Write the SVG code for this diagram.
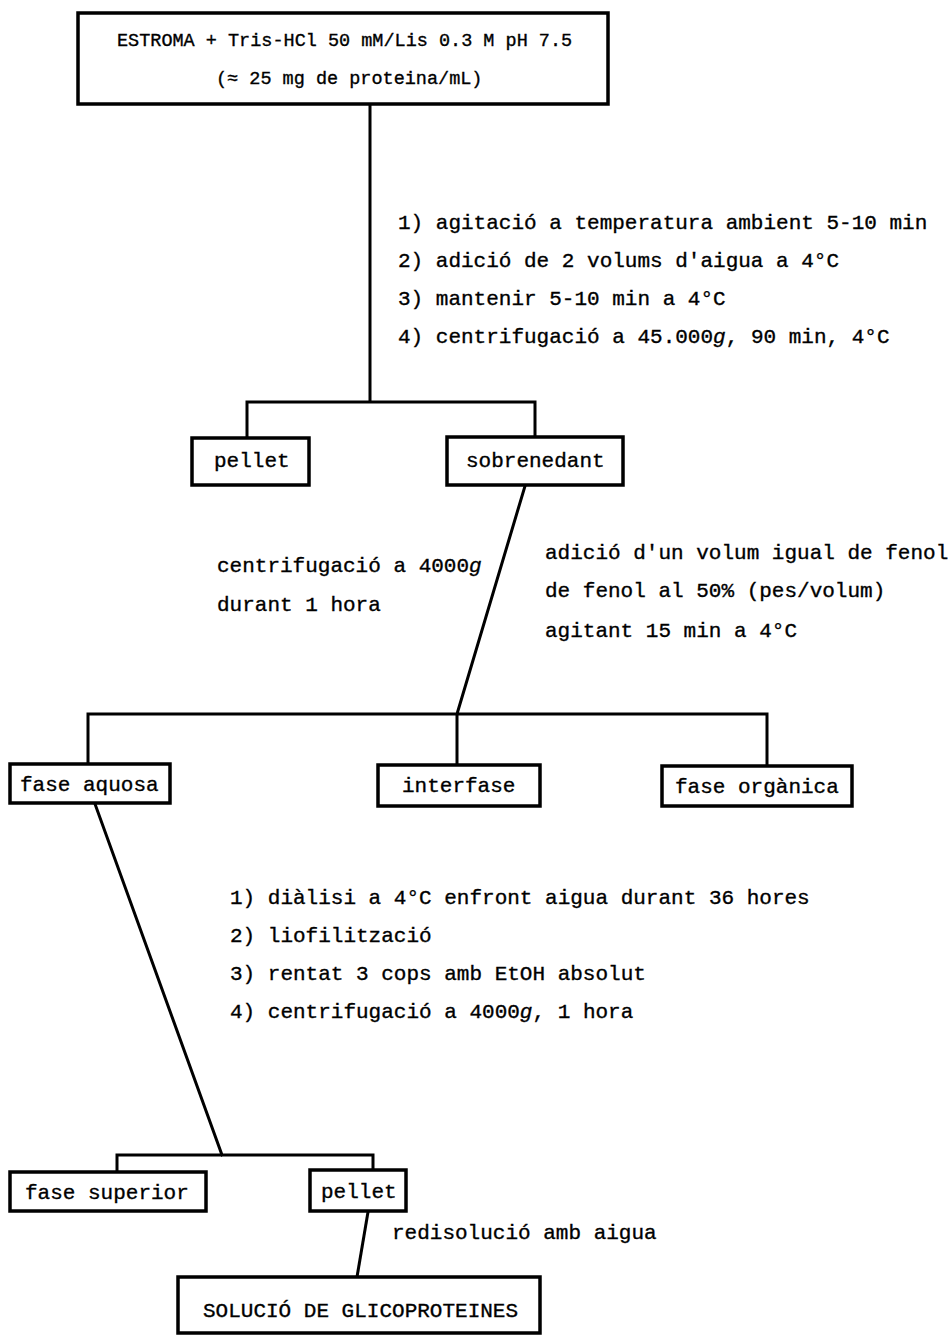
<svg xmlns="http://www.w3.org/2000/svg" width="951" height="1337" viewBox="0 0 951 1337">
<style>
.box{fill:#fff;stroke:#000;stroke-width:3.5}
.ln{fill:none;stroke:#000;stroke-width:3;stroke-linecap:square;stroke-linejoin:miter}
text{font-family:"Liberation Mono","Courier New",monospace;font-size:21px;fill:#000;stroke:#000;stroke-width:0.35}
.sm{font-size:18.5px}
.it{font-style:italic}
</style>
<rect width="951" height="1337" fill="#fff"/>
<g id="connectors">
<path class="ln" d="M370,106 V402 M247,438 V402 H535 V437"/>
<path class="ln" d="M525,486 L457,714 M88,764 V714 H767 V766 M457,714 V765"/>
<path class="ln" d="M95,804 L222,1155 M117,1172 V1155 H373 V1170"/>
<path class="ln" d="M368,1212 L357,1277"/>
</g>
<g id="n-estroma">
<rect class="box" x="78" y="13" width="530" height="91"/>
<text class="sm" x="117" y="46">ESTROMA + Tris-HCl 50 mM/Lis 0.3 M pH 7.5</text>
<text class="sm" x="216" y="84">(≈ 25 mg de proteina/mL)</text>
</g>
<g id="lbl-steps1">
<text x="398" y="229">1) agitació a temperatura ambient 5-10 min</text>
<text x="398" y="267">2) adició de 2 volums d'aigua a 4°C</text>
<text x="398" y="305">3) mantenir 5-10 min a 4°C</text>
<text x="398" y="343">4) centrifugació a 45.000<tspan class="it">g</tspan>, 90 min, 4°C</text>
</g>
<g id="n-pellet1">
<rect class="box" x="192" y="438" width="117" height="47"/>
<text x="214" y="467">pellet</text>
</g>
<g id="n-sobrenedant">
<rect class="box" x="447" y="437" width="176" height="48"/>
<text x="466" y="467">sobrenedant</text>
</g>
<g id="lbl-centrif">
<text x="217" y="572">centrifugació a 4000<tspan class="it">g</tspan></text>
<text x="217" y="611">durant 1 hora</text>
</g>
<g id="lbl-fenol">
<text x="545" y="559">adició d'un volum igual de fenol</text>
<text x="545" y="597">de fenol al 50% (pes/volum)</text>
<text x="545" y="637">agitant 15 min a 4°C</text>
</g>
<g id="n-aquosa">
<rect class="box" x="10" y="764" width="160" height="39"/>
<text x="20" y="791">fase aquosa</text>
</g>
<g id="n-interfase">
<rect class="box" x="378" y="765" width="162" height="41"/>
<text x="402" y="792">interfase</text>
</g>
<g id="n-organica">
<rect class="box" x="662" y="766" width="190" height="40"/>
<text x="675" y="793">fase orgànica</text>
</g>
<g id="lbl-steps2">
<text x="230" y="904">1) diàlisi a 4°C enfront aigua durant 36 hores</text>
<text x="230" y="942">2) liofilització</text>
<text x="230" y="980">3) rentat 3 cops amb EtOH absolut</text>
<text x="230" y="1018">4) centrifugació a 4000<tspan class="it">g</tspan>, 1 hora</text>
</g>
<g id="n-superior">
<rect class="box" x="10" y="1172" width="196" height="39"/>
<text x="25" y="1199">fase superior</text>
</g>
<g id="n-pellet2">
<rect class="box" x="310" y="1170" width="96" height="41"/>
<text x="321" y="1198">pellet</text>
</g>
<g id="lbl-redis">
<text x="392" y="1239">redisolució amb aigua</text>
</g>
<g id="n-solucio">
<rect class="box" x="178" y="1277" width="362" height="56"/>
<text x="203" y="1317">SOLUCIÓ DE GLICOPROTEINES</text>
</g>
</svg>
